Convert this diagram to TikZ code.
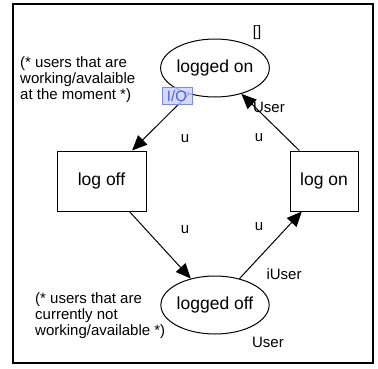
\documentclass[tikz,border=0pt]{standalone}
\usepackage{fontspec}
\setmainfont{Liberation Sans}
\usetikzlibrary{shapes.geometric,arrows.meta}
\definecolor{ioline}{RGB}{120,135,245}
\definecolor{iofill}{RGB}{200,208,255}
\definecolor{iotext}{RGB}{80,95,225}
\begin{document}
\begin{tikzpicture}[x=1pt,y=-1pt,
  place/.style={ellipse,draw,line width=1pt,minimum width=89pt,minimum height=58pt,inner sep=0pt,font=\fontsize{17.5}{19}\selectfont},
  trans/.style={rectangle,draw,line width=1pt,minimum height=60pt,inner sep=0pt,font=\fontsize{17.5}{19}\selectfont},
  arc/.style={line width=1pt,-{Triangle[length=15pt,width=13pt]}},
  lbl/.style={inner sep=0pt,font=\fontsize{15}{17}\selectfont},
  note/.style={inner sep=0pt,anchor=north west,align=left,font=\fontsize{15}{16.2}\selectfont}]
\useasboundingbox (0,0) rectangle (378,368);
\draw[line width=2pt] (13,4) rectangle (373,363);

% places and transitions
\node[place] (on) at (215,68) {logged on};
\node[place] (off) at (215,305) {logged off};
\node[trans,minimum width=89pt] (loff) at (101.5,181) {log off};
\node[trans,minimum width=68pt] (lon) at (324,181) {log on};

% inscriptions
\node[lbl] (init) at (257,33) {[]};
\node[lbl] (typeon) at (269,107) {User};
\node[lbl] (typeoff) at (268,342) {User};
\node[lbl] (a1) at (185,139) {u};
\node[lbl] (a2) at (259,138) {u};
\node[lbl] (a3) at (185,230) {u};
\node[lbl] (a4) at (259,227) {u};
\node[lbl] (a5) at (284,274) {iUser};
\node[note] (c1) at (20,56) {(* users that are\\working/avalaible\\at the moment *)};
\node[note] (c2) at (35,292) {(* users that are\\currently not\\working/available *)};

% arcs
\draw[arc] (on) -- (loff);
\draw[arc] (loff) -- (off);
\draw[arc] (off) -- (lon.234);
\draw[arc] (lon.129) -- (on);

% port tag
\node[draw=ioline,fill=iofill,fill opacity=0.8,text opacity=1,text=iotext,inner sep=1pt,minimum width=30pt,minimum height=17pt,font=\fontsize{15}{17}\selectfont] (io) at (177,96) {I/O};
\end{tikzpicture}
\end{document}
